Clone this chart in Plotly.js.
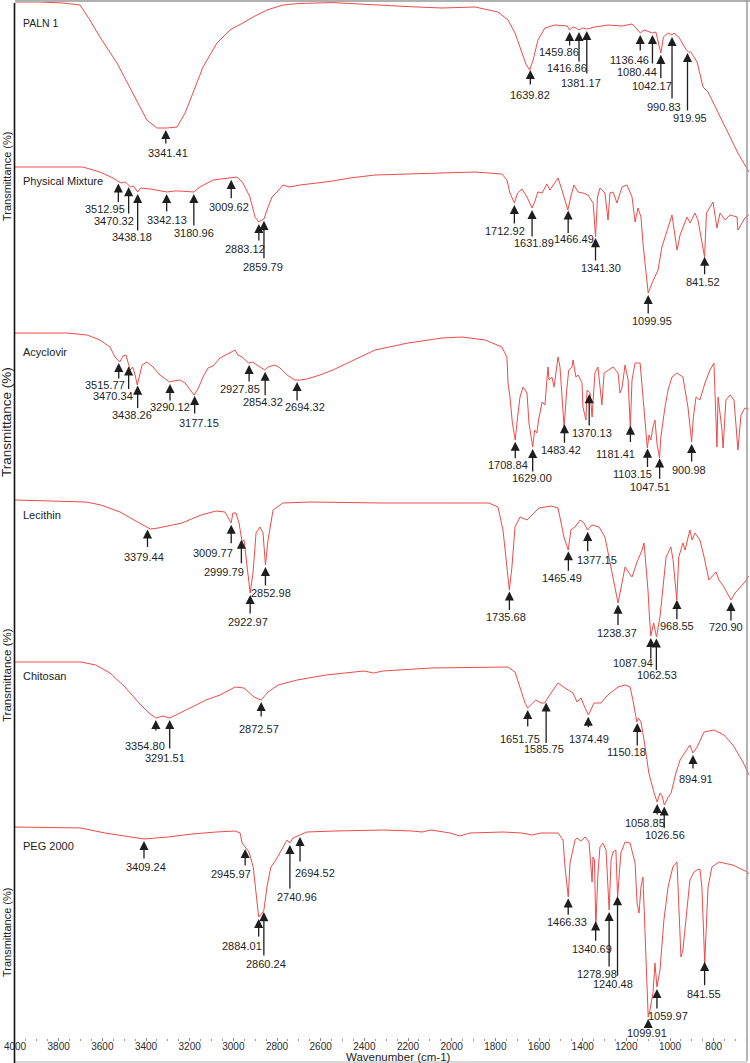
<!DOCTYPE html>
<html><head><meta charset="utf-8">
<script src="https://cdn.plot.ly/plotly-3.0.1.min.js"></script>
<style>html,body{margin:0;padding:0;background:#fff}#chart{width:750px;height:1063px}</style>
</head><body><div id="chart"></div>
<script>
// ---------- DATA (wavenumber cm-1, transmittance %) ----------
const panelNames = ["PALN 1","Physical Mixture","Acyclovir","Lecithin","Chitosan","PEG 2000"];
const xTickVals = [4000,3800,3600,3400,3200,3000,2800,2600,2400,2200,2000,1800,1600,1400,1200,1000,800];
const xTickText = ["4000","3800","3600","3400","3200","3000","2800","2600","2400","2200","2000","1800","1600","1400","1200","1000","800"];

const palnWn = [4000,3886,3780,3702,3657,3611,3533,3460,3396,3350,3304,3258,3221,3185,3139,3075,3015,2992,2956,2910,2846,2773,2695,2544,2351,2200,2044,1893,1788,1742,1710,1678,1660,1643,1627,1605,1573,1527,1481,1470,1460,1445,1430,1417,1400,1381,1344,1284,1220,1174,1160,1136,1119,1105,1080,1065,1042,1030,1010,991,982,960,925,915,905,876,849,826,780,735,689,657,638];
const palnT  = [99,99,98.5,97.5,90,81.5,68.5,53.5,40,36,36,36.5,43.5,53.5,66.5,78.5,85,86.5,88.5,91.5,95,97.5,98.3,98.7,97.5,96.7,96,96.5,94,90,83.5,73.5,68,65,70,80,86,87.5,87,87,85,86.5,86,85,86,85.5,86.5,87.5,87,88,86.5,83.5,85,84.5,83.5,84,73.5,81.5,83.5,82.5,83.5,81.5,75,74,74,69,56.5,54,43.5,33.5,23.5,17.5,14];
const palnPeaks = ["3341.41","1639.82","1459.86","1416.86","1381.17","1136.46","1080.44","1042.17","990.83","919.95"];

const pmWn = [4000,3840,3689,3611,3551,3530,3513,3500,3490,3470,3458,3438,3425,3382,3330,3304,3270,3244,3181,3153,3093,3015,2983,2956,2924,2901,2883,2869,2860,2846,2823,2800,2773,2741,2695,2617,2544,2466,2351,2200,2044,1893,1770,1747,1733,1713,1698,1678,1655,1632,1620,1605,1586,1564,1550,1536,1513,1495,1468,1455,1440,1421,1399,1376,1352,1341,1332,1321,1298,1284,1275,1261,1243,1220,1197,1174,1160,1147,1133,1124,1105,1100,1082,1069,1055,1037,1014,991,968,954,922,908,886,872,842,833,803,785,771,748,725,693,689,670,657,639];
const pmT  = [98,98,98,95.5,92.5,91,90,90.5,90,88,88.5,85.5,87.5,87,86,85.5,86,86,85.5,88,91.5,92.5,93,90,83,73,70.5,71.5,72,76.5,83,85.5,89,88,89,90,91,92.5,94,94.5,95,95.5,94.5,91.5,85,80,85,87,83,77.5,80.5,85.5,85,89.5,86.5,89,92.5,86.5,76.5,83,89,85.5,85,84,80,63,83,87.5,85,71.5,85,85.5,80,88,89,83,70.5,77.5,73,60,40,35,40,43,46.5,58,66.5,74,56.5,64,73,70,75,71.5,53,75,80.5,67.5,75,71.5,74,73,66.5,70.5,72.5,74];
const pmPeaks = ["3512.95","3470.32","3438.18","3342.13","3180.96","3009.62","2883.12","2859.79","1712.92","1631.89","1466.49","1341.30","1099.95","841.52"];

const acvWn = [4000,3762,3670,3611,3565,3542,3520,3505,3492,3472,3462,3452,3440,3430,3418,3396,3368,3336,3292,3276,3244,3221,3199,3180,3160,3139,3116,3093,3061,3015,2992,2979,2960,2930,2912,2892,2856,2841,2809,2786,2754,2718,2695,2663,2603,2544,2466,2351,2200,2044,1953,1847,1770,1747,1742,1733,1722,1709,1698,1687,1673,1655,1646,1629,1620,1610,1602,1586,1573,1559,1554,1541,1531,1513,1504,1485,1473,1464,1449,1444,1431,1421,1403,1399,1385,1380,1366,1357,1353,1344,1330,1321,1312,1302,1284,1261,1238,1229,1220,1206,1192,1182,1174,1160,1137,1124,1104,1096,1088,1078,1069,1060,1048,1042,1034,1023,1009,991,968,941,918,901,893,881,863,840,817,799,785,780,762,757,744,725,707,689,675,657,640];
const acvT  = [96,96,95,92.5,89,84,81.5,84.5,85,77.5,79,76,70,74,80,81.5,79,75,71.5,72,72.5,71,67.5,65,68.5,74,78.5,79.5,83.5,86,87.5,85,84,81,81.5,80,77.5,79,80,78.5,75,72.5,72.5,73,75,77.5,81.5,87.5,91,93.5,94,92.5,89,84,71,64,51,42.5,54,64,69,66,51,39,47.5,46,52.5,61.5,60,79,72.5,74,69,84,79,49,67.5,77.5,79,82.5,74,75,71,59,52.5,67.5,66,54,61,76,79,71,60,76,77.5,79,76,66,68.5,80,72.5,49,72.5,81,81,64,38.5,45,42.5,49,52.5,41,33.5,44,51,59,67.5,74,76,74,59,41.5,54,64,62.5,71,77.5,81,39,64,47.5,38.5,62.5,65,62.5,37.5,55,58.5,58];
const acvPeaks = ["3515.77","3470.34","3438.26","3290.12","3177.15","2927.85","2854.32","2694.32","1708.84","1629.00","1483.42","1370.13","1181.41","1103.15","1047.51","900.98"];

const lecWn = [4000,3675,3606,3519,3455,3380,3345,3235,3148,3079,3038,3010,3002,2988,2974,2960,2951,2937,2923,2910,2896,2878,2864,2853,2841,2818,2773,2644,2315,1985,1829,1788,1765,1747,1736,1724,1710,1687,1655,1632,1600,1545,1513,1495,1486,1466,1454,1435,1412,1394,1378,1357,1325,1298,1279,1257,1238,1220,1206,1188,1174,1151,1128,1119,1101,1094,1088,1075,1062,1046,1028,1018,996,986,969,960,941,931,909,899,886,863,844,822,789,776,753,721,702,657,640];
const lecT  = [95,94,92.5,89,85,80.5,81,83.5,87.5,89.5,89,83.5,88.5,88.5,83.5,74,75,61.5,48.5,58.5,78.5,81.5,78.5,62.5,75,90,93.5,94,93.5,93.5,93.5,91.5,80,61.5,50,61.5,81.5,86.5,85,87.5,91,92,91,81.5,76.5,70,80,81.5,85,83.5,80,82.5,81.5,76.5,66.5,53.5,43.5,53.5,61.5,58.5,56.5,64,70,73.5,50,36,27,33.5,26.5,36.5,55,66.5,71.5,65,45,66.5,73.5,70,80,75,78.5,75,66.5,55,59,55,51.5,45,48.5,54,57];
const lecPeaks = ["3379.44","3009.77","2999.79","2922.97","2852.98","1735.68","1465.49","1377.15","1238.37","1087.94","1062.53","968.55","720.90"];

const chiWn = [4000,3698,3630,3565,3496,3432,3386,3355,3322,3291,3235,3188,3125,3061,2992,2951,2905,2873,2841,2795,2708,2576,2402,2357,2315,2095,1875,1742,1710,1687,1664,1652,1630,1615,1590,1575,1545,1513,1481,1444,1426,1408,1389,1374,1348,1316,1285,1238,1206,1183,1170,1152,1145,1133,1119,1097,1073,1059,1046,1036,1026,1008,995,973,954,931,909,895,876,844,799,753,712,666,648,638];
const chiT  = [96.5,96.5,95,91,84,76,71,68.5,69.5,68.5,71.5,74,77.5,80,84,83.5,79,77.5,81.5,85,87.5,90,92,91,92,93.5,94,94,91.5,84,76,73.5,76,77.5,76,76,81,86,83.5,81,76.5,78.5,73.5,70,76,76,80,84,85,84,77.5,66.5,68.5,66.5,57.5,41,31,26.5,31,29.5,25,29,31,41,47.5,51.5,55,51,54,61.5,62.5,60,55,46.5,42.5,40];
const chiPeaks = ["3354.80","3291.51","2872.57","1651.75","1585.75","1374.49","1150.18","1058.85","1026.56","894.91"];

const pegWn = [4000,3698,3588,3409,3299,3189,3079,2992,2969,2960,2946,2928,2909,2896,2884,2867,2860,2846,2828,2805,2773,2754,2741,2727,2695,2663,2534,2315,2182,2136,2095,2007,1962,1916,1765,1678,1633,1591,1513,1490,1481,1466,1458,1435,1426,1408,1389,1371,1357,1353,1346,1340,1330,1321,1307,1293,1279,1270,1261,1248,1240,1225,1206,1183,1160,1151,1142,1133,1124,1110,1104,1100,1092,1078,1069,1060,1046,1028,1009,987,968,959,950,941,927,909,890,877,863,854,841,826,808,776,712,646,638];
const pegT  = [96.5,96,93.5,90.5,91.5,93,94,94.5,93.5,88.5,86.5,84,76.5,61.5,51.5,53.5,55,66.5,76.5,80,86,90,88.5,91,92.5,94,94.5,95,94.5,94,95,93.5,92,93.5,94,93.5,92.5,93.5,93.5,90,76.5,61.5,78.5,90,91,89.5,91.5,89,69,81.5,80,46.5,73.5,86.5,88.5,85,55,80,84,85,61.5,83.5,89,88.5,78.5,58.5,53.5,66.5,71.5,33.5,10,1.5,5,13.5,28.5,16.5,25,50,66.5,76.5,79,50,31.5,35,50,70,74,75,75.5,66.5,28.5,66.5,76.5,79,77.5,74,73];
const pegPeaks = ["3409.24","2945.97","2884.01","2860.24","2740.96","2694.52","1466.33","1340.69","1278.98","1240.48","1099.91","1059.97","841.55"];

// ---------- LABEL PLACEMENT (pixels): [arrow x nudge, arrow length, text drop, text x offset] ----------
const palnMarks = [[7,17,25,2],[0,18,27,0],[0,17,22,-11],[0,33,38,-12],[0,46,54,-6],[0,19,27,-11],[0,32,39,-15],[0,27,33,-9],[0,65,72,-8],[0,61,67,2]];
const pmMarks = [[-3,22,28,-13],[-2,30,36,-15],[0,40,45,-6],[8,21,28,0],[0,35,41,0],[0,22,29,-2],[0,20,27,-14],[0,41,48,-1],[0,22,28,-9],[0,30,35,2],[0,26,31,6],[0,26,32,5],[0,22,28,4],[0,21,27,-2]];
const acvMarks = [[-2,19,24,-14],[-2,26,32,-16],[0,26,31,-6],[0,20,25,0],[0,21,29,4],[0,20,26,-9],[0,27,32,-2],[-3,22,27,8],[0,20,25,-7],[0,26,31,-1],[0,22,28,-3],[0,35,41,3],[0,20,30,-15],[0,22,27,-15],[0,24,31,-10],[0,21,28,-3]];
const lecMarks = [[-3,21,30,-3],[0,22,30,-18],[8,27,34,-17],[0,22,29,-2],[0,22,28,6],[0,22,28,-3],[0,23,29,-6],[0,23,30,9],[0,24,30,-1],[0,24,27,-18],[0,35,39,1],[0,23,28,0],[0,22,27,-5]];
const chiMarks = [[0,14,28,-11],[0,32,40,-5],[0,18,29,-2],[0,20,31,-8],[4,44,49,-2],[0,14,24,1],[0,26,31,-11],[0,14,21,-12],[0,25,30,1],[0,17,26,3]];
const pegMarks = [[0,21,28,2],[0,20,27,-14],[0,21,29,-17],[0,47,54,2],[0,47,54,7],[0,28,38,15],[0,20,26,-1],[0,23,30,-4],[0,58,64,-12],[0,83,90,-5],[0,11,16,-1],[0,23,29,11],[0,27,34,-1]];

// ---------- LAYOUT GEOMETRY ----------
const W = 750, H = 1063, ML = 15, MR = 1, MT = 0, MB = 22;
const plotW = W - ML - MR, plotH = H - MT - MB;
const xRange = [4000, 638.3];
const pxPerUnit = plotW / (xRange[0] - xRange[1]);
const panelTopPx = [0, 163, 325, 490, 655, 820];
const bandPx = 200;
const panelLabelPx = [22.5, 181, 352, 515, 675.5, 846];
const panelLabelSize = [10.5, 11, 11, 11, 11, 11];
const yTitlePx = [177, 422, 675, 933];
const yTitleSize = [11, 13.5, 11.5, 11];
const lineColor = '#ee4b4b';
const baseFont = 'Liberation Sans, Arial, sans-serif';
const labelFont = {family: baseFont, size: 11, color: '#1e1e1e'};

const spectra = [
  {wn: palnWn, t: palnT, peaks: palnPeaks, marks: palnMarks},
  {wn: pmWn, t: pmT, peaks: pmPeaks, marks: pmMarks},
  {wn: acvWn, t: acvT, peaks: acvPeaks, marks: acvMarks},
  {wn: lecWn, t: lecT, peaks: lecPeaks, marks: lecMarks},
  {wn: chiWn, t: chiT, peaks: chiPeaks, marks: chiMarks},
  {wn: pegWn, t: pegT, peaks: pegPeaks, marks: pegMarks}
];

function interp(xs, ys, x) {
  for (let i = 0; i < xs.length - 1; i++) {
    const a = xs[i], b = xs[i + 1];
    if ((x <= a && x >= b) || (x >= a && x <= b)) {
      const f = (x - a) / (b - a);
      return ys[i] + f * (ys[i + 1] - ys[i]);
    }
  }
  return ys[ys.length - 1];
}
const py = px => (plotH - (px - MT)) / plotH;   // pixel row -> paper y
const pxX = px => (px - ML) / plotW;            // pixel column -> paper x

const traces = [];
const layout = {
  width: W, height: H,
  margin: {l: ML, r: MR, t: MT, b: MB, pad: 0},
  paper_bgcolor: '#fff', plot_bgcolor: 'rgba(0,0,0,0)',
  showlegend: false,
  font: {family: baseFont, color: '#222'},
  xaxis: {
    range: xRange, anchor: 'free', position: 0,
    tickmode: 'array', tickvals: xTickVals, ticktext: xTickText,
    ticks: 'inside', ticklen: 3, tickwidth: 1, tickcolor: '#8a8a8a',
    minor: {dtick: 50, tick0: 0, ticks: 'inside', ticklen: 2, tickcolor: '#9a9a9a', showgrid: false},
    showgrid: false, zeroline: false, showline: false,
    ticklabelstandoff: -2,
    tickfont: {family: baseFont, size: 10, color: '#2a2a2a'},
    fixedrange: true
  },
  annotations: [],
  shapes: []
};

spectra.forEach((s, i) => {
  const yName = i === 0 ? 'y' : 'y' + (i + 1);
  const yKey = i === 0 ? 'yaxis' : 'yaxis' + (i + 1);
  const top = panelTopPx[i];
  layout[yKey] = {
    domain: [Math.max(0, py(top + bandPx)), Math.min(1, py(top))],
    range: [0, 100], visible: false, fixedrange: true, anchor: 'x'
  };
  traces.push({
    x: s.wn, y: s.t, xaxis: 'x', yaxis: yName, type: 'scatter', mode: 'lines',
    line: {color: lineColor, width: 1}, hoverinfo: 'skip'
  });
  s.peaks.forEach((lbl, j) => {
    const m = s.marks[j];
    const xv = parseFloat(lbl) - m[0] / pxPerUnit;
    const yv = interp(s.wn, s.t, xv);
    layout.annotations.push({
      x: xv, y: yv, xref: 'x', yref: yName, text: '', showarrow: true,
      ax: 0, ay: m[1], axref: 'pixel', ayref: 'pixel',
      arrowhead: 2, arrowsize: 1.4, arrowwidth: 1.3, arrowcolor: '#1e1e1e', standoff: 2
    });
    layout.annotations.push({
      x: xv, y: yv, xref: 'x', yref: yName, text: lbl, showarrow: false,
      xanchor: 'center', yanchor: 'middle', xshift: m[3], yshift: -m[2],
      font: labelFont
    });
  });
  layout.annotations.push({
    x: pxX(21), y: py(panelLabelPx[i]), xref: 'paper', yref: 'paper',
    text: panelNames[i], showarrow: false, xanchor: 'left', yanchor: 'middle',
    font: {family: baseFont, size: panelLabelSize[i], color: '#222'}
  });
});

yTitlePx.forEach((p, k) => {
  layout.annotations.push({
    x: pxX(7), y: py(p), xref: 'paper', yref: 'paper', text: 'Transmittance (%)',
    showarrow: false, textangle: -90, xanchor: 'center', yanchor: 'middle',
    font: {family: baseFont, size: yTitleSize[k], color: '#222'}
  });
});

layout.annotations.push({
  x: pxX(399), y: py(1056.5), xref: 'paper', yref: 'paper', text: 'Wavenumber (cm-1)',
  showarrow: false, xanchor: 'center', yanchor: 'middle',
  font: {family: baseFont, size: 11.5, color: '#222'}
});

layout.shapes.push(
  {type: 'line', xref: 'paper', yref: 'paper', x0: pxX(15), x1: pxX(750), y0: py(1), y1: py(1), line: {color: '#b0b0b0', width: 2}},
  {type: 'line', xref: 'paper', yref: 'paper', x0: pxX(747), x1: pxX(747), y0: py(0), y1: py(1061), line: {color: '#9a9a9a', width: 1.5}},
  {type: 'line', xref: 'paper', yref: 'paper', x0: pxX(15), x1: pxX(747), y0: py(1062), y1: py(1062), line: {color: '#b0b0b0', width: 1}},
  {type: 'line', xref: 'paper', yref: 'paper', x0: pxX(14.5), x1: pxX(14.5), y0: py(3), y1: py(1063), line: {color: '#111', width: 1.6}}
);

Plotly.newPlot('chart', traces, layout, {staticPlot: true, displayModeBar: false});
</script>
</body></html>
